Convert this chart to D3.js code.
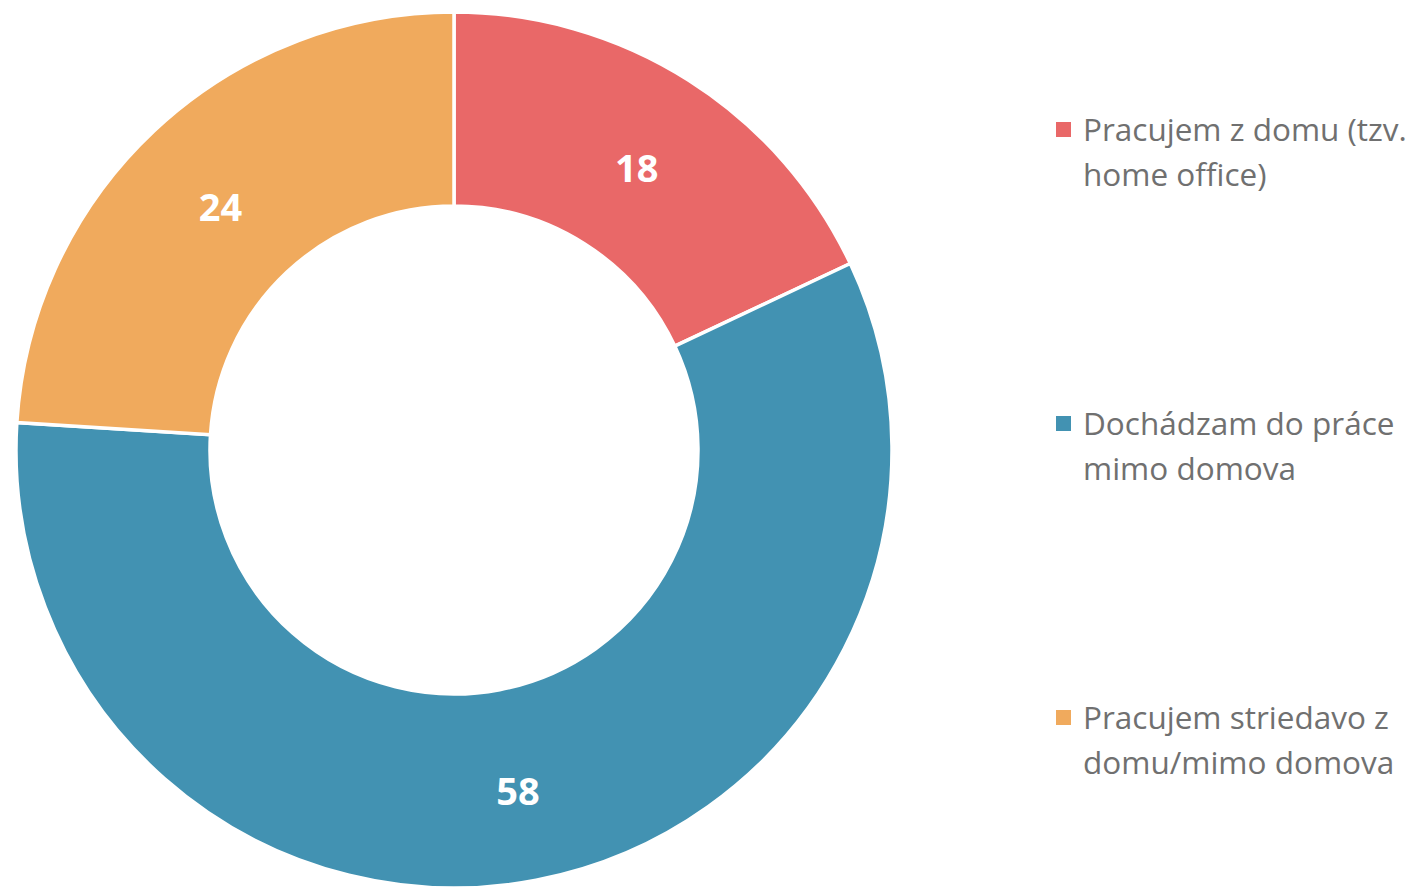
<!DOCTYPE html>
<html>
<head>
<meta charset="utf-8">
<script src="https://cdn.jsdelivr.net/npm/d3@7"></script>
<style>
  body { margin: 0; background: #fff; }
  svg { display: block; }
</style>
</head>
<body>
<div class="chart"></div>
<script>
var categories = ["Pracujem z domu (tzv. home office)", "Dochádzam do práce mimo domova", "Pracujem striedavo z domu/mimo domova"];
var legendLines = [["Pracujem z domu (tzv.", "home office)"], ["Dochádzam do práce", "mimo domova"], ["Pracujem striedavo z", "domu/mimo domova"]];
var values = [18, 58, 24];
var colors = ["#E96868", "#4292B2", "#F0AA5D"];

var width = 1424, height = 888,
    cx = 454, cy = 450,
    outerR = 438, innerR = 244;

var svg = d3.select(".chart").append("svg")
    .attr("width", width)
    .attr("height", height);

var color = d3.scaleOrdinal().domain(categories).range(colors);

var pie = d3.pie().sort(null).value(function(d) { return d.value; });
var arc = d3.arc().innerRadius(innerR).outerRadius(outerR);

var data = categories.map(function(c, i) { return {name: c, value: values[i]}; });

var g = svg.append("g").attr("transform", "translate(" + cx + "," + cy + ")");

var slices = g.selectAll("g.arc")
    .data(pie(data))
    .enter().append("g")
    .attr("class", "arc");

slices.append("path")
    .attr("d", arc)
    .style("fill", function(d) { return color(d.data.name); })
    .style("stroke", "#fff")
    .style("stroke-width", 3.5);

slices.append("text")
    .attr("x", function(d) { return arc.centroid(d)[0]; })
    .attr("y", function(d) { return arc.centroid(d)[1]; })
    .attr("dy", "0.52em")
    .style("text-anchor", "middle")
    .style("font-family", "'Open Sans', sans-serif")
    .style("font-weight", "bold")
    .style("font-size", "38px")
    .style("fill", "#fff")
    .text(function(d) { return d.data.value; });

// legend
var legendY = d3.scalePoint().domain(categories).range([130, 424 + 294]);
var lg = svg.selectAll("g.legend")
    .data(categories)
    .enter().append("g")
    .attr("class", "legend")
    .attr("transform", function(d) { return "translate(1056," + legendY(d) + ")"; });

lg.append("rect")
    .attr("x", 0)
    .attr("y", -8)
    .attr("width", 15)
    .attr("height", 15)
    .style("fill", function(d) { return color(d); });

lg.append("text")
    .style("font-family", "'Open Sans', sans-serif")
    .style("font-size", "31.5px")
    .style("fill", "#707070")
    .selectAll("tspan")
    .data(function(d, i) { return legendLines[i]; })
    .enter().append("tspan")
    .attr("x", 27)
    .attr("y", function(d, i) { return i * 45; })
    .attr("dy", "0.35em")
    .text(String);
</script>
</body>
</html>
